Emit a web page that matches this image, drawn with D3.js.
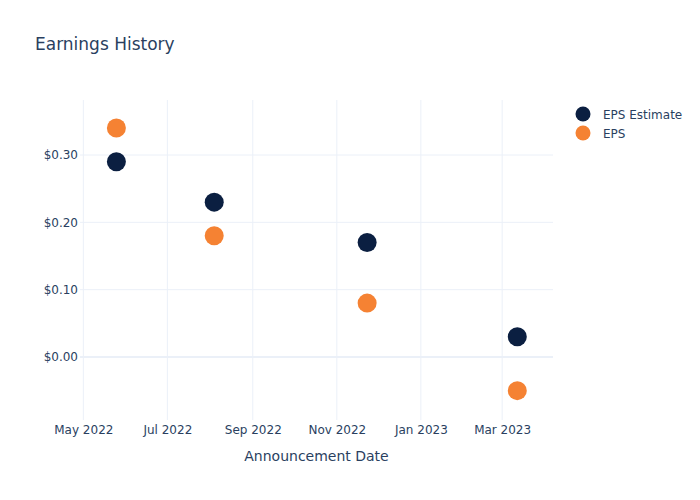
<!DOCTYPE html>
<html><head><meta charset="utf-8">
<script src="https://cdn.jsdelivr.net/npm/d3@7"></script>
<style>body{margin:0;background:#fff}svg{font-family:"DejaVu Sans",Verdana,sans-serif}</style>
</head><body>
<svg id="c" width="700" height="500"></svg>
<script>
const dates = ["2022-05-25","2022-08-04","2022-11-23","2023-03-12"];
const epsEstimate = [0.29, 0.23, 0.17, 0.03];
const eps = [0.34, 0.18, 0.08, -0.05];
const xTicks = ["2022-05-01","2022-07-01","2022-09-01","2022-11-01","2023-01-01","2023-03-01"];
const yTicks = [0, 0.1, 0.2, 0.3];
const seriesNames = ["EPS Estimate","EPS"];
const colors = ["#0b1f41","#f58233"];

const parse = d3.utcParse("%Y-%m-%d");
const svg = d3.select("#c");
const M = {l:80, r:147, t:100, b:80};
const W = 700, H = 500;
const x = d3.scaleUtc()
  .domain([new Date(Date.UTC(2022,3,28,14)), new Date(Date.UTC(2023,3,6,22))])
  .range([M.l, W - M.r]);
const y = d3.scaleLinear().domain([-0.0936, 0.3817]).range([H - M.b, M.t]);
const txt = "#2a3f5f", grid = "#ebf0f8";

// grid
const g = svg.append("g");
g.selectAll(".vx").data(xTicks).join("line")
  .attr("x1", d => x(parse(d))).attr("x2", d => x(parse(d)))
  .attr("y1", M.t).attr("y2", H - M.b).attr("stroke", grid).attr("stroke-width", 1);
g.selectAll(".hy").data(yTicks).join("line")
  .attr("x1", M.l).attr("x2", W - M.r)
  .attr("y1", d => y(d)).attr("y2", d => y(d))
  .attr("stroke", grid).attr("stroke-width", d => d === 0 ? 2 : 1);

// axes
const xAxis = d3.axisBottom(x).tickValues(xTicks.map(parse)).tickFormat(d3.utcFormat("%b %Y")).tickSize(0).tickPadding(5);
const xa = svg.append("g").attr("transform", `translate(0,${H - M.b})`).call(xAxis);
xa.select(".domain").remove();
xa.selectAll("text").attr("fill", txt).attr("font-size", 12).attr("font-family", "DejaVu Sans, Verdana, sans-serif");

const yAxis = d3.axisLeft(y).tickValues(yTicks).tickFormat(d => "$" + d3.format(".2f")(d)).tickSize(0).tickPadding(2);
const ya = svg.append("g").attr("transform", `translate(${M.l},0)`).call(yAxis);
ya.select(".domain").remove();
ya.selectAll("text").attr("fill", txt).attr("font-size", 12).attr("font-family", "DejaVu Sans, Verdana, sans-serif");

// points
[epsEstimate, eps].forEach((vals, i) => {
  svg.append("g").selectAll("circle").data(vals).join("circle")
    .attr("cx", (d, j) => x(parse(dates[j]))).attr("cy", d => y(d))
    .attr("r", 9.5).attr("fill", colors[i]);
});

// title
svg.append("text").attr("x", 35).attr("y", 50).attr("fill", txt).attr("font-size", 17).text("Earnings History");
svg.append("text").attr("x", (M.l + W - M.r) / 2).attr("y", 461).attr("text-anchor", "middle")
  .attr("fill", txt).attr("font-size", 14).text("Announcement Date");

// legend
const lg = svg.append("g");
seriesNames.forEach((n, i) => {
  lg.append("circle").attr("cx", 583).attr("cy", 114 + i * 19).attr("r", 7.5).attr("fill", colors[i]);
  lg.append("text").attr("x", 603).attr("y", 114 + i * 19 + 4.5).attr("fill", txt).attr("font-size", 12).text(n);
});
</script>
</body></html>
